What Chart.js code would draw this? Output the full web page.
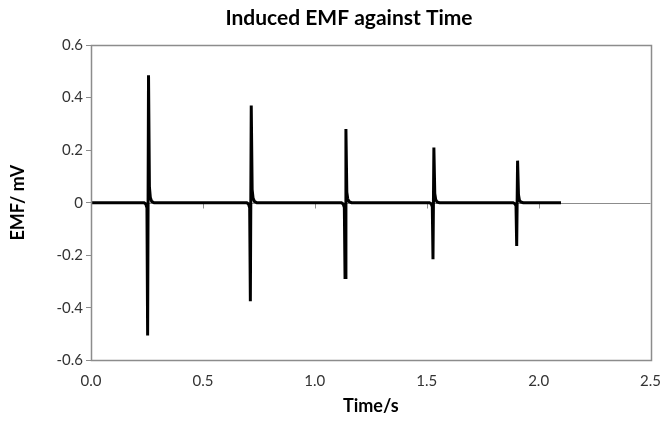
<!DOCTYPE html>
<html>
<head>
<meta charset="utf-8">
<script src="https://cdn.jsdelivr.net/npm/chart.js@4.4.0/dist/chart.umd.min.js"></script>
<style>
  html, body { margin: 0; padding: 0; background: #ffffff; }
  #wrap { width: 665px; height: 421px; }
</style>
</head>
<body>
<div id="wrap"><canvas id="c" width="665" height="421"></canvas></div>
<script>
// Time (s) and induced EMF (mV)
const timeValues = [
  0.000,
  0.237, 0.245, 0.250, 0.253, 0.257, 0.261, 0.265, 0.271, 0.282,
  0.696, 0.704, 0.709, 0.712, 0.716, 0.720, 0.724, 0.730, 0.741,
  1.119, 1.127, 1.132, 1.135, 1.139, 1.143, 1.147, 1.153, 1.164,
  1.512, 1.520, 1.525, 1.528, 1.532, 1.536, 1.540, 1.546, 1.557,
  1.886, 1.894, 1.899, 1.902, 1.906, 1.910, 1.914, 1.920, 1.931,
  2.100
];
const emfValues = [
  0,
  0, -0.005, -0.020, -0.505, 0.485, 0.060, 0.020, 0.005, 0,
  0, -0.005, -0.020, -0.375, 0.370, 0.050, 0.018, 0.005, 0,
  0, -0.005, -0.018, -0.285, 0.280, 0.040, 0.015, 0.004, 0,
  0, -0.004, -0.015, -0.215, 0.210, 0.035, 0.012, 0.003, 0,
  0, -0.004, -0.012, -0.165, 0.160, 0.030, 0.010, 0.003, 0,
  0
];
const xTickValues = [0, 0.5, 1.0, 1.5, 2.0, 2.5];
const yTickValues = [-0.6, -0.4, -0.2, 0, 0.2, 0.4, 0.6];
const chartTitle = 'Induced EMF against Time';
const xTitle = 'Time/s';
const yTitle = 'EMF/ mV';

const points = timeValues.map((t, i) => ({ x: t, y: emfValues[i] }));

const frameColor = '#8c8c8c';

const framePlugin = {
  id: 'frame',
  beforeDatasetsDraw(chart) {
    const { ctx, chartArea: a, scales } = chart;
    ctx.save();
    ctx.strokeStyle = frameColor;
    ctx.lineWidth = 1;
    const y0 = Math.round(scales.y.getPixelForValue(0)) + 0.5;
    ctx.beginPath();
    ctx.moveTo(a.left, y0);
    ctx.lineTo(a.right, y0);
    xTickValues.forEach(v => {
      const px = Math.round(scales.x.getPixelForValue(v)) + 0.5;
      ctx.moveTo(px, y0);
      ctx.lineTo(px, y0 + 5);
    });
    ctx.stroke();
    ctx.restore();
  },
  afterDraw(chart) {
    const { ctx, chartArea: a } = chart;
    ctx.save();
    ctx.strokeStyle = frameColor;
    ctx.lineWidth = 1.5;
    ctx.strokeRect(Math.round(a.left) + 0.5, Math.round(a.top) + 0.5,
                   Math.round(a.right - a.left), Math.round(a.bottom - a.top));
    // chart title
    ctx.fillStyle = '#000000';
    ctx.font = 'bold 21px Lato';
    ctx.textAlign = 'center';
    ctx.textBaseline = 'middle';
    ctx.fillText(chartTitle, 349, 18);
    ctx.restore();
  }
};

new Chart(document.getElementById('c'), {
  type: 'line',
  data: {
    datasets: [{
      data: points,
      borderColor: '#000000',
      borderWidth: 3,
      pointRadius: 0,
      tension: 0,
      fill: false
    }]
  },
  options: {
    responsive: false,
    animation: false,
    devicePixelRatio: 1,
    layout: { padding: { left: 0, right: 10, top: 45, bottom: 0 } },
    plugins: {
      legend: { display: false },
      tooltip: { enabled: false },
      title: { display: false }
    },
    scales: {
      x: {
        type: 'linear',
        min: 0, max: 2.5,
        afterBuildTicks: s => { s.ticks = xTickValues.map(v => ({ value: v })); },
        ticks: {
          color: '#333333',
          font: { family: 'Lato', size: 15 },
          padding: 4,
          maxRotation: 0,
          callback: v => Number(v).toFixed(1)
        },
        grid: { display: false },
        border: { display: false },
        title: {
          display: true,
          text: xTitle,
          color: '#000000',
          font: { family: 'Lato', size: 18, weight: 'bold' },
          padding: { top: 1, bottom: 4 }
        }
      },
      y: {
        type: 'linear',
        min: -0.6, max: 0.6,
        afterBuildTicks: s => { s.ticks = yTickValues.map(v => ({ value: v })); },
        afterFit: s => { s.width = 91; },
        ticks: {
          color: '#333333',
          font: { family: 'Lato', size: 15 },
          padding: 3,
          callback: v => (Math.abs(v) < 1e-9 ? '0' : Number(v).toFixed(1))
        },
        grid: {
          drawOnChartArea: false,
          drawTicks: true,
          tickLength: 5,
          color: frameColor
        },
        border: { display: false },
        title: {
          display: true,
          text: yTitle,
          color: '#000000',
          font: { family: 'Lato', size: 18, weight: 'bold' },
          padding: { top: 7, bottom: 0 }
        }
      }
    }
  },
  plugins: [framePlugin]
});
</script>
</body>
</html>
